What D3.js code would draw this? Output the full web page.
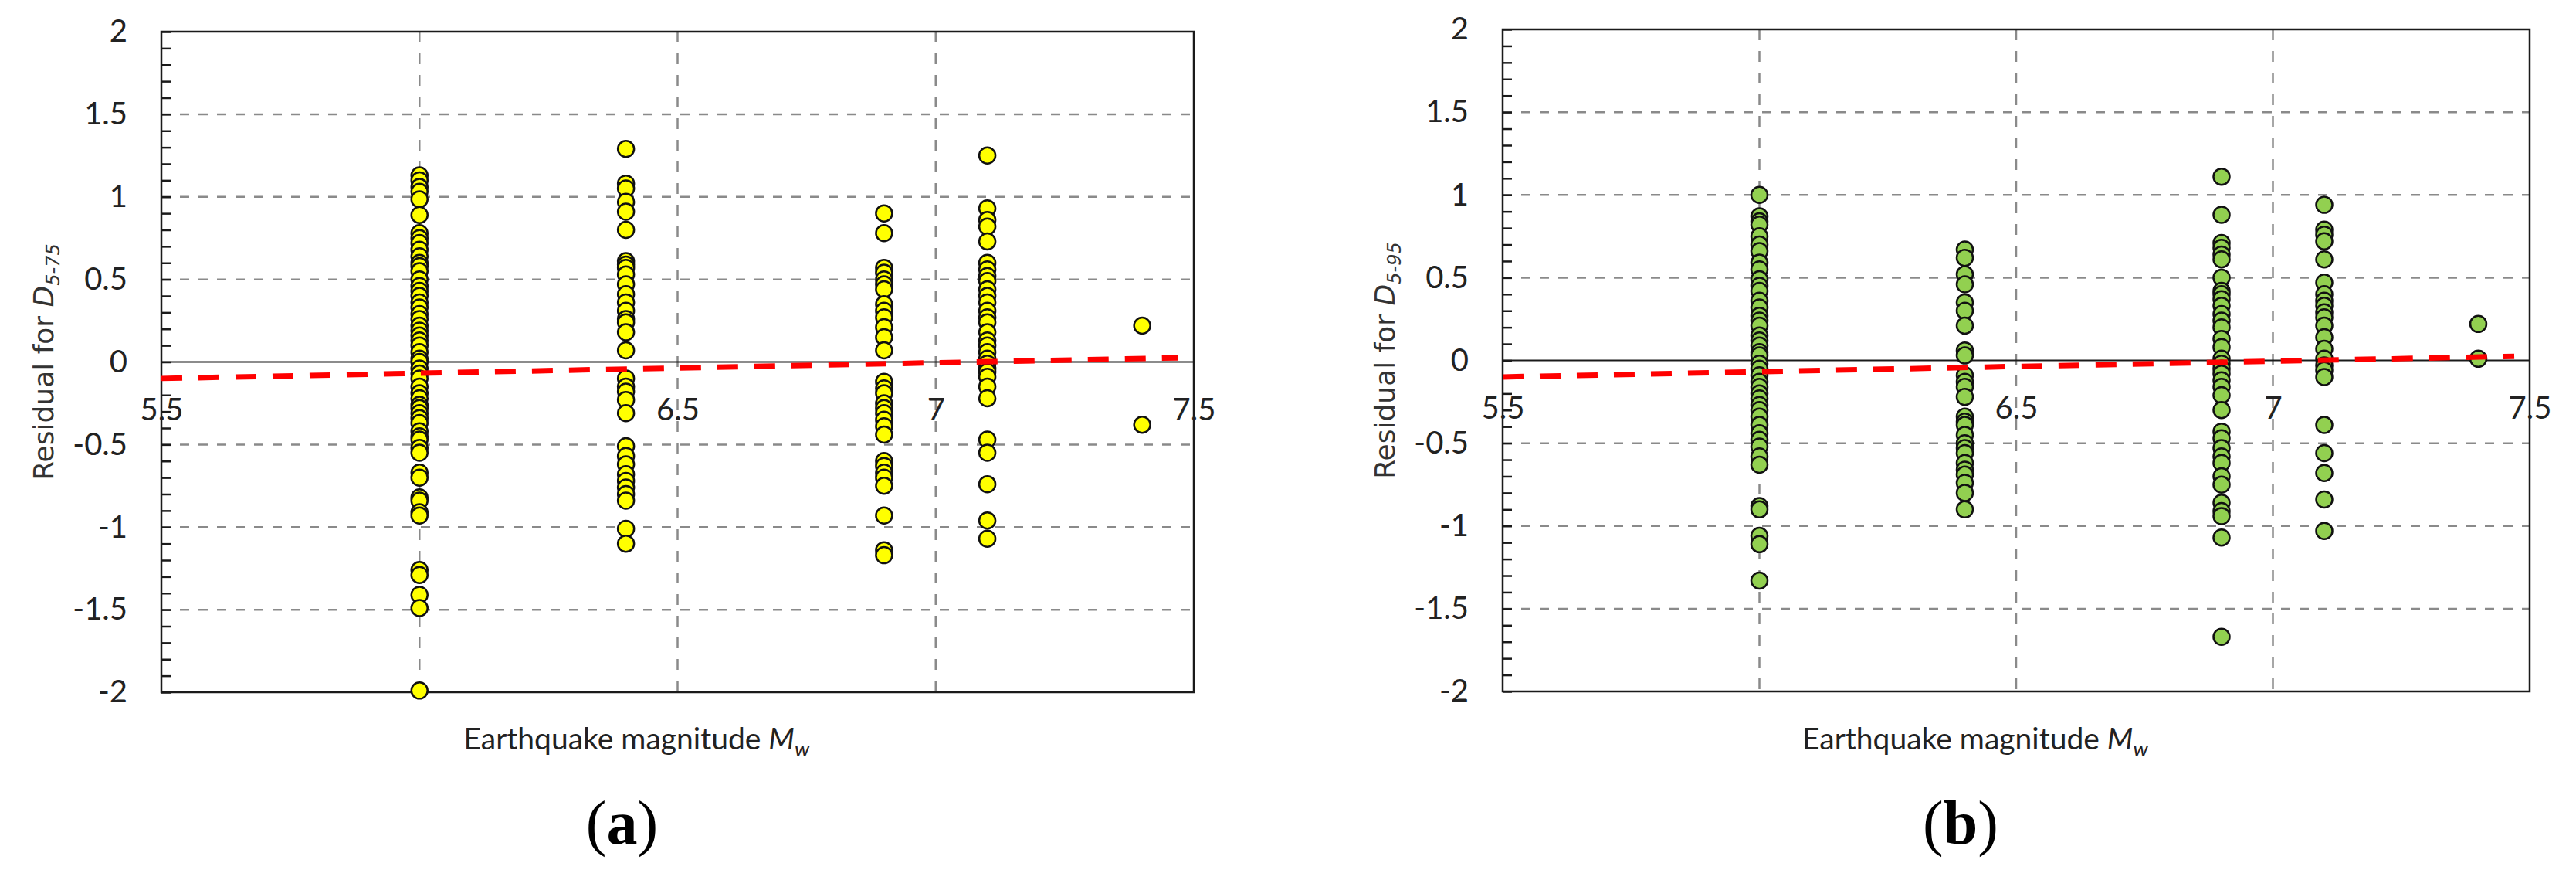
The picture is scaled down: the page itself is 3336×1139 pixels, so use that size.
<!DOCTYPE html>
<html>
<head>
<meta charset="utf-8">
<script src="https://cdn.jsdelivr.net/npm/d3@7"></script>
<style>
  body { margin: 0; background: #fff; }
  svg { display: block; }
</style>
</head>
<body>
<script>
// magnitudes of the five events (x positions of the point columns)
const magnitudes = [6.0, 6.4, 6.9, 7.1, 7.4];

// residuals for D5-75, one list per magnitude
const residualsD575 = [
  [1.13, 1.10, 1.06, 1.03, 0.985, 0.89, 0.78, 0.75, 0.72, 0.68, 0.64, 0.60, 0.58, 0.55, 0.50, 0.46, 0.43, 0.40, 0.36, 0.33,
   0.29, 0.26, 0.22, 0.19, 0.16, 0.13, 0.10, 0.06, 0.02, 0.0, -0.04, -0.07, -0.10, -0.15, -0.19, -0.22, -0.26, -0.28, -0.31,
   -0.34, -0.37, -0.42, -0.45, -0.47, -0.52, -0.55, -0.67, -0.70, -0.82, -0.84, -0.91, -0.93, -1.26, -1.29, -1.41, -1.49, -1.99],
  [1.29, 1.08, 1.05, 0.97, 0.91, 0.80, 0.61, 0.59, 0.57, 0.53, 0.47, 0.41, 0.36, 0.31, 0.26, 0.24, 0.18, 0.07, -0.10, -0.15,
   -0.18, -0.23, -0.31, -0.51, -0.57, -0.62, -0.68, -0.72, -0.76, -0.80, -0.84, -1.01, -1.10],
  [0.90, 0.78, 0.57, 0.54, 0.50, 0.47, 0.44, 0.35, 0.31, 0.27, 0.21, 0.15, 0.07, -0.12, -0.16, -0.19, -0.25, -0.28, -0.31,
   -0.35, -0.39, -0.44, -0.60, -0.63, -0.67, -0.70, -0.75, -0.93, -1.14, -1.17],
  [1.25, 0.93, 0.86, 0.82, 0.73, 0.60, 0.56, 0.52, 0.49, 0.44, 0.40, 0.36, 0.31, 0.27, 0.24, 0.18, 0.13, 0.10, 0.06, 0.02,
   -0.01, -0.04, -0.06, -0.09, -0.15, -0.22, -0.47, -0.55, -0.74, -0.96, -1.07],
  [0.22, -0.38]
];

// residuals for D5-95, one list per magnitude
const residualsD595 = [
  [1.00, 0.87, 0.84, 0.82, 0.75, 0.70, 0.66, 0.59, 0.55, 0.49, 0.45, 0.42, 0.36, 0.32, 0.27, 0.24, 0.21, 0.15, 0.12, 0.09,
   0.05, 0.03, -0.02, -0.05, -0.09, -0.13, -0.16, -0.20, -0.23, -0.27, -0.30, -0.34, -0.39, -0.44, -0.48, -0.52, -0.58,
   -0.63, -0.88, -0.90, -1.06, -1.11, -1.33],
  [0.67, 0.62, 0.52, 0.46, 0.35, 0.30, 0.21, 0.06, 0.03, -0.09, -0.13, -0.16, -0.22, -0.34, -0.37, -0.39, -0.45, -0.50,
   -0.53, -0.56, -0.62, -0.66, -0.69, -0.74, -0.80, -0.90],
  [1.11, 0.88, 0.71, 0.68, 0.64, 0.61, 0.50, 0.42, 0.40, 0.37, 0.33, 0.28, 0.24, 0.20, 0.13, 0.08, 0.01, -0.02, -0.05,
   -0.08, -0.12, -0.16, -0.21, -0.30, -0.43, -0.47, -0.53, -0.58, -0.62, -0.70, -0.75, -0.86, -0.91, -0.94, -1.07, -1.67],
  [0.94, 0.79, 0.76, 0.72, 0.61, 0.47, 0.40, 0.36, 0.33, 0.29, 0.26, 0.21, 0.14, 0.07, 0.01, -0.03, -0.06, -0.10, -0.39,
   -0.56, -0.68, -0.84, -1.03],
  [0.22, 0.01]
];

// linear trend lines (red dashed)
const trendMw = [5.5, 7.47];
const trendD575 = [-0.10, 0.025];
const trendD595 = [-0.10, 0.025];

// tick values
const xTickValues = [5.5, 6, 6.5, 7, 7.5];
const xGridValues = [6, 6.5, 7];
const yTickValues = [-2, -1.5, -1, -0.5, 0, 0.5, 1, 1.5, 2];
const yGridValues = [-1.5, -1, -0.5, 0.5, 1, 1.5];
const yMinorValues = d3.range(-20, 21).map(d => d / 10);

var width = 3336;
var height = 1139;

var svg = d3.select("body").append("svg")
  .attr("width", width)
  .attr("height", height);

svg.append("rect").attr("width", width).attr("height", height).attr("fill", "#fff");

var panels = [
  { left: 209, right: 1546, top: 41, bottom: 896, values: residualsD575, trend: trendD575,
    fill: "#ffff00", sub: "5-75", letter: "a" },
  { left: 1946, right: 3276, top: 38, bottom: 895, values: residualsD595, trend: trendD595,
    fill: "#92d050", sub: "5-95", letter: "b" }
];

var fmt = d => String(d).replace("\u2212", "-");

panels.forEach(drawPanel);

function drawPanel(p) {
  var x = d3.scaleLinear().domain([5.5, 7.5]).range([p.left, p.right]);
  var y = d3.scaleLinear().domain([-2, 2]).range([p.bottom, p.top]);
  var g = svg.append("g");

  // dashed grid
  g.selectAll(".hgrid").data(yGridValues).enter().append("line")
    .attr("x1", p.left).attr("x2", p.right)
    .attr("y1", d => y(d)).attr("y2", d => y(d))
    .attr("stroke", "#8a8a8a").attr("stroke-width", 2.5)
    .attr("stroke-dasharray", "12,12");

  g.selectAll(".vgrid").data(xGridValues).enter().append("line")
    .attr("x1", d => x(d)).attr("x2", d => x(d))
    .attr("y1", p.top).attr("y2", p.bottom)
    .attr("stroke", "#8a8a8a").attr("stroke-width", 2.5)
    .attr("stroke-dasharray", "14,14");

  // plot border
  g.append("rect")
    .attr("x", p.left).attr("y", p.top)
    .attr("width", p.right - p.left).attr("height", p.bottom - p.top)
    .attr("fill", "none").attr("stroke", "#1a1a1a").attr("stroke-width", 2.5);

  // zero line
  g.append("line")
    .attr("x1", p.left).attr("x2", p.right)
    .attr("y1", y(0)).attr("y2", y(0))
    .attr("stroke", "#1a1a1a").attr("stroke-width", 2);

  // minor ticks on the left axis (pointing inside)
  var minor = g.append("g")
    .attr("transform", "translate(" + p.left + ",0)")
    .call(d3.axisRight(y).tickValues(yMinorValues).tickSize(12).tickFormat(""));
  minor.select(".domain").remove();
  minor.selectAll("line").attr("stroke", "#1a1a1a").attr("stroke-width", 2.5);

  // y tick labels
  var yAxis = g.append("g")
    .attr("transform", "translate(" + p.left + ",0)")
    .call(d3.axisLeft(y).tickValues(yTickValues).tickSize(0).tickPadding(44).tickFormat(fmt));
  yAxis.select(".domain").remove();
  yAxis.selectAll("text")
    .attr("font-family", "Lato, 'Open Sans', sans-serif")
    .attr("font-size", 40)
    .attr("fill", "#222");

  // x tick labels sit just under the zero line, beneath the markers
  var xAxis = g.append("g")
    .attr("transform", "translate(0," + y(0) + ")")
    .call(d3.axisBottom(x).tickValues(xTickValues).tickSize(0).tickFormat(fmt));
  xAxis.select(".domain").remove();
  xAxis.selectAll("text")
    .attr("y", 75).attr("dy", 0)
    .attr("font-family", "Lato, 'Open Sans', sans-serif")
    .attr("font-size", 40)
    .attr("fill", "#222");

  // points
  var pts = [];
  magnitudes.forEach((m, i) => p.values[i].forEach(v => pts.push({ m: m, r: v })));
  g.append("g").selectAll("circle")
    .data(pts)
    .enter()
      .append("circle")
      .attr("cx", d => x(d.m))
      .attr("cy", d => y(d.r))
      .attr("r", 10.5)
      .attr("fill", p.fill)
      .attr("stroke", "#111")
      .attr("stroke-width", 2.5);

  // trend line
  var line = d3.line().x(d => x(d[0])).y(d => y(d[1]));
  g.append("path")
    .datum(trendMw.map((m, i) => [m, p.trend[i]]))
    .attr("d", line)
    .attr("fill", "none")
    .attr("stroke", "#ff0000")
    .attr("stroke-width", 7)
    .attr("stroke-dasharray", "27,21");

  var cx = (p.left + p.right) / 2;
  var cy = (p.top + p.bottom) / 2;

  // y axis title
  var yt = g.append("text")
    .attr("transform", "translate(" + (p.left - 140) + "," + cy + ") rotate(-90)")
    .attr("text-anchor", "middle")
    .attr("font-family", "'DejaVu Sans', sans-serif")
    .attr("font-size", 36)
    .attr("fill", "#333");
  yt.append("tspan").text("Residual for ");
  yt.append("tspan").attr("font-style", "italic").text("D");
  yt.append("tspan").attr("font-style", "italic").attr("font-size", 24).attr("dy", 8).text(p.sub);

  // x axis title
  var xt = g.append("text")
    .attr("x", cx - 53).attr("y", 970)
    .attr("text-anchor", "middle")
    .attr("font-family", "Lato, 'Open Sans', sans-serif")
    .attr("font-size", 39)
    .attr("fill", "#222");
  xt.append("tspan").text("Earthquake magnitude ");
  xt.append("tspan").attr("font-style", "italic").text("M");
  xt.append("tspan").attr("font-style", "italic").attr("font-size", 27).attr("dy", 9).text("w");

  // panel caption
  var cap = g.append("text")
    .attr("x", cx - 72).attr("y", 1092)
    .attr("text-anchor", "middle")
    .attr("font-family", "'Liberation Serif', 'DejaVu Serif', serif")
    .attr("font-size", 80)
    .attr("fill", "#000");
  cap.append("tspan").text("(");
  cap.append("tspan").attr("font-weight", "bold").text(p.letter);
  cap.append("tspan").text(")");
}
</script>
</body>
</html>
